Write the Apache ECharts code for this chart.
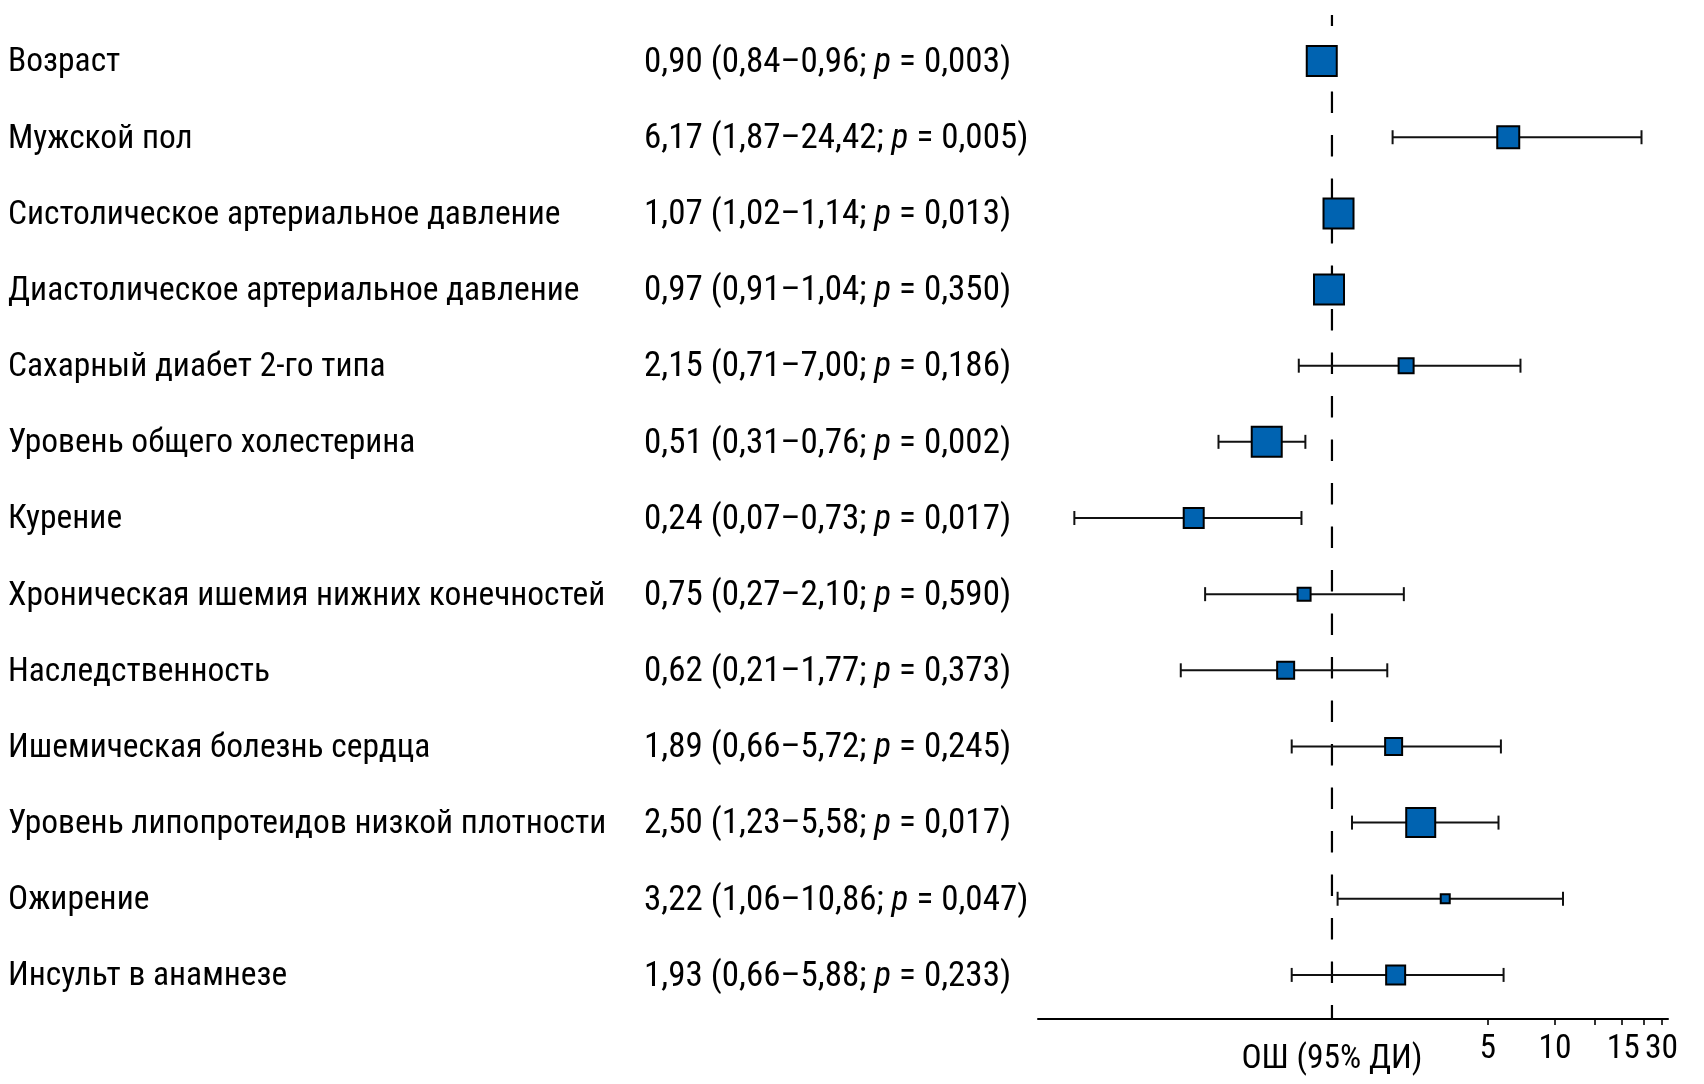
<!DOCTYPE html>
<html><head><meta charset="utf-8">
<script src="https://cdn.jsdelivr.net/npm/echarts@6/dist/echarts.min.js"></script>
<style>html,body{margin:0;padding:0;background:#fff}#c{width:1704px;height:1084px}</style>
</head><body><div id="c"></div>
<script>
const factors = [
  'Возраст',
  'Мужской пол',
  'Систолическое артериальное давление',
  'Диастолическое артериальное давление',
  'Сахарный диабет 2-го типа',
  'Уровень общего холестерина',
  'Курение',
  'Хроническая ишемия нижних конечностей',
  'Наследственность',
  'Ишемическая болезнь сердца',
  'Уровень липопротеидов низкой плотности',
  'Ожирение',
  'Инсульт в анамнезе'
];
const oddsRatio = [0.90, 6.17, 1.07, 0.97, 2.15, 0.51, 0.24, 0.75, 0.62, 1.89, 2.50, 3.22, 1.93];
const ciLow     = [0.84, 1.87, 1.02, 0.91, 0.71, 0.31, 0.07, 0.27, 0.21, 0.66, 1.23, 1.06, 0.66];
const ciHigh    = [0.96, 24.42, 1.14, 1.04, 7.00, 0.76, 0.73, 2.10, 1.77, 5.72, 5.58, 10.86, 5.88];
const pValues   = [0.003, 0.005, 0.013, 0.350, 0.186, 0.002, 0.017, 0.590, 0.373, 0.245, 0.017, 0.047, 0.233];
const studyWeight = [30, 22, 30, 30, 15, 30, 20, 13, 17, 17, 29, 9, 19];
const axisLabelValues = [1, 5, 10, 15, 30];
const axisTickValues = [5, 10, 15, 20, 25, 30];
const axisTitle = 'ОШ (95% ДИ)';

const FONT = "'Liberation Sans Narrow', 'Noto Sans Condensed', 'Roboto Condensed', 'DejaVu Sans Condensed', sans-serif";
const FS = 33.5;
const FSV = 35;
const lg = Math.log10;
const fmt2 = v => v.toFixed(2).replace('.', ',');
const fmt3 = v => v.toFixed(3).replace('.', ',');
const valueTexts = factors.map((_, i) =>
  '{t|' + fmt2(oddsRatio[i]) + ' (' + fmt2(ciLow[i]) + '–' + fmt2(ciHigh[i]) + '; }{i|p}{t| = ' + fmt3(pValues[i]) + ')}'
);
// x is plotted on a log10 scale
const forestData = factors.map((_, i) => [lg(ciLow[i]), lg(ciHigh[i]), lg(oddsRatio[i]), i, studyWeight[i]]);

const chart = echarts.init(document.getElementById('c'), null, {renderer: 'canvas'});
chart.setOption({
  animation: false,
  backgroundColor: '#fff',
  grid: {left: 1038, width: 630, top: 23, height: 990},
  xAxis: {
    type: 'value', min: lg(0.0481), max: lg(32.1), offset: 6,
    axisLine: {show: true, onZero: false, lineStyle: {color: '#000', width: 2}},
    splitLine: {show: false},
    axisTick: {show: true, customValues: axisTickValues.map(lg), length: 6, lineStyle: {color: '#000', width: 1.6}},
    axisLabel: {
      show: true, hideOverlap: false, showMinLabel: true, showMaxLabel: true,
      customValues: axisLabelValues.map(lg), margin: 14,
      fontFamily: FONT, fontSize: FS, color: '#000',
      formatter: v => {
        const r = Math.round(Math.pow(10, v));
        if (r === 1) return '{n|' + axisTitle + '}';
        if (r === 15) return '{s|' + r + '}';
        return String(r);
      },
      rich: {
        n: {fontFamily: FONT, fontSize: FS, color: '#000', padding: [10, 0, 0, 0]},
        s: {fontFamily: FONT, fontSize: FS, color: '#000', padding: [0, 0, 0, 58]}
      }
    }
  },
  yAxis: [
    {
      type: 'category', inverse: true, data: factors,
      axisLine: {show: false}, axisTick: {show: false},
      axisLabel: {
        align: 'left', margin: 1030, fontFamily: FONT, fontSize: FS, color: '#000', padding: [4, 0, 0, 0],
        formatter: v => '{a|' + v + '}',
        rich: {a: {fontFamily: FONT, fontSize: FS, color: '#000'}}
      }
    },
    {
      type: 'category', inverse: true, data: valueTexts, position: 'left',
      axisLine: {show: false}, axisTick: {show: false},
      axisLabel: {
        align: 'left', margin: 394, fontFamily: FONT, fontSize: FSV, color: '#000', padding: [4, 0, 0, 0],
        rich: {
          t: {fontFamily: FONT, fontSize: FSV, color: '#000'},
          i: {fontFamily: FONT, fontSize: FSV, color: '#000', fontStyle: 'italic'}
        }
      }
    }
  ],
  series: [
    {
      type: 'custom', name: 'ref', clip: false, silent: true,
      data: [[0, 0]],
      renderItem: (params, api) => {
        const top = api.coord([0, 0]);
        const bot = api.coord([0, factors.length - 1]);
        const band = api.size([0, 1])[1];
        return {
          type: 'line',
          shape: {x1: top[0], y1: top[1] - band * 0.605, x2: bot[0], y2: bot[1] + band * 0.58},
          style: {stroke: '#000', lineWidth: 2.2, lineDash: [21.5, 22], lineDashOffset: 10.5}
        };
      }
    },
    {
      type: 'custom', name: 'forest', clip: false, silent: true,
      encode: {x: [0, 1, 2], y: 3},
      data: forestData,
      renderItem: (params, api) => {
        const row = api.value(3);
        const pl = api.coord([api.value(0), row]);
        const ph = api.coord([api.value(1), row]);
        const pc = api.coord([api.value(2), row]);
        const s = api.value(4);
        const cap = 7;
        const ls = {stroke: '#111', lineWidth: 2};
        return {
          type: 'group',
          children: [
            {type: 'line', shape: {x1: pl[0], y1: pl[1], x2: ph[0], y2: ph[1]}, style: ls},
            {type: 'line', shape: {x1: pl[0], y1: pl[1] - cap, x2: pl[0], y2: pl[1] + cap}, style: ls},
            {type: 'line', shape: {x1: ph[0], y1: ph[1] - cap, x2: ph[0], y2: ph[1] + cap}, style: ls},
            {type: 'rect', shape: {x: pc[0] - s / 2, y: pc[1] - s / 2, width: s, height: s},
             style: {fill: '#0063b1', stroke: '#000', lineWidth: 2}}
          ]
        };
      }
    }
  ]
});
</script></body></html>
